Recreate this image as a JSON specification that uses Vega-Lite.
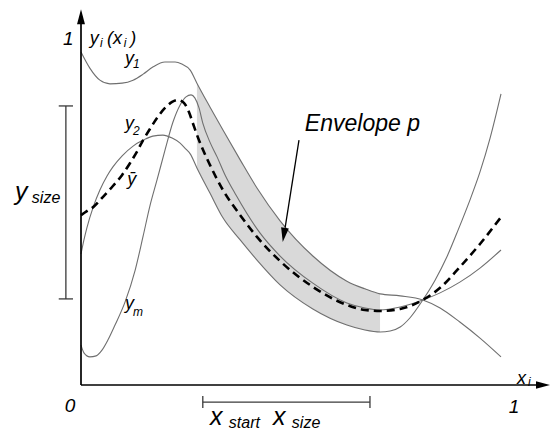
{
  "$schema": "https://vega.github.io/schema/vega-lite/v6.json",
  "width": 550,
  "height": 430,
  "autosize": "none",
  "padding": 0,
  "background": "white",
  "config": {"view": {"stroke": null}},
  "datasets": {
    "curves": [
      {"c":"y1","x":0,"y":0.994},{"c":"y1","x":0.021,"y":0.946},{"c":"y1","x":0.045,"y":0.910},{"c":"y1","x":0.069,"y":0.899},{"c":"y1","x":0.098,"y":0.901},{"c":"y1","x":0.124,"y":0.910},{"c":"y1","x":0.148,"y":0.928},{"c":"y1","x":0.171,"y":0.949},{"c":"y1","x":0.200,"y":0.964},{"c":"y1","x":0.224,"y":0.964},{"c":"y1","x":0.240,"y":0.958},{"c":"y1","x":0.260,"y":0.940},{"c":"y1","x":0.276,"y":0.901},{"c":"y1","x":0.307,"y":0.830},{"c":"y1","x":0.338,"y":0.761},{"c":"y1","x":0.379,"y":0.672},{"c":"y1","x":0.419,"y":0.588},{"c":"y1","x":0.474,"y":0.490},{"c":"y1","x":0.552,"y":0.385},{"c":"y1","x":0.633,"y":0.310},{"c":"y1","x":0.676,"y":0.287},{"c":"y1","x":0.712,"y":0.272},{"c":"y1","x":0.760,"y":0.266},{"c":"y1","x":0.814,"y":0.254},{"c":"y1","x":0.855,"y":0.230},{"c":"y1","x":0.902,"y":0.188},{"c":"y1","x":0.950,"y":0.140},{"c":"y1","x":1.0,"y":0.084},
      {"c":"y2","x":0,"y":0.391},{"c":"y2","x":0.007,"y":0.433},{"c":"y2","x":0.014,"y":0.469},{"c":"y2","x":0.029,"y":0.531},{"c":"y2","x":0.045,"y":0.582},{"c":"y2","x":0.062,"y":0.624},{"c":"y2","x":0.076,"y":0.651},{"c":"y2","x":0.098,"y":0.684},{"c":"y2","x":0.124,"y":0.713},{"c":"y2","x":0.148,"y":0.731},{"c":"y2","x":0.171,"y":0.743},{"c":"y2","x":0.195,"y":0.746},{"c":"y2","x":0.217,"y":0.737},{"c":"y2","x":0.236,"y":0.722},{"c":"y2","x":0.250,"y":0.704},{"c":"y2","x":0.260,"y":0.690},{"c":"y2","x":0.276,"y":0.648},{"c":"y2","x":0.307,"y":0.573},{"c":"y2","x":0.338,"y":0.499},{"c":"y2","x":0.379,"y":0.433},{"c":"y2","x":0.419,"y":0.373},{"c":"y2","x":0.474,"y":0.299},{"c":"y2","x":0.552,"y":0.227},{"c":"y2","x":0.633,"y":0.179},{"c":"y2","x":0.676,"y":0.164},{"c":"y2","x":0.712,"y":0.158},{"c":"y2","x":0.736,"y":0.161},{"c":"y2","x":0.760,"y":0.173},{"c":"y2","x":0.783,"y":0.200},{"c":"y2","x":0.814,"y":0.254},{"c":"y2","x":0.843,"y":0.313},{"c":"y2","x":0.871,"y":0.382},{"c":"y2","x":0.898,"y":0.463},{"c":"y2","x":0.926,"y":0.552},{"c":"y2","x":0.950,"y":0.636},{"c":"y2","x":0.974,"y":0.737},{"c":"y2","x":1.0,"y":0.869},
      {"c":"ym","x":0,"y":0.119},{"c":"ym","x":0.007,"y":0.096},{"c":"ym","x":0.021,"y":0.084},{"c":"ym","x":0.036,"y":0.087},{"c":"ym","x":0.050,"y":0.104},{"c":"ym","x":0.064,"y":0.134},{"c":"ym","x":0.081,"y":0.179},{"c":"ym","x":0.105,"y":0.248},{"c":"ym","x":0.129,"y":0.343},{"c":"ym","x":0.148,"y":0.445},{"c":"ym","x":0.164,"y":0.534},{"c":"ym","x":0.181,"y":0.612},{"c":"ym","x":0.200,"y":0.701},{"c":"ym","x":0.219,"y":0.785},{"c":"ym","x":0.236,"y":0.836},{"c":"ym","x":0.250,"y":0.860},{"c":"ym","x":0.262,"y":0.866},{"c":"ym","x":0.271,"y":0.857},{"c":"ym","x":0.281,"y":0.827},{"c":"ym","x":0.290,"y":0.782},{"c":"ym","x":0.307,"y":0.725},{"c":"ym","x":0.324,"y":0.681},{"c":"ym","x":0.343,"y":0.627},{"c":"ym","x":0.369,"y":0.567},{"c":"ym","x":0.426,"y":0.454},{"c":"ym","x":0.474,"y":0.385},{"c":"ym","x":0.552,"y":0.304},{"c":"ym","x":0.633,"y":0.245},{"c":"ym","x":0.676,"y":0.230},{"c":"ym","x":0.712,"y":0.224},{"c":"ym","x":0.760,"y":0.233},{"c":"ym","x":0.814,"y":0.254},{"c":"ym","x":0.855,"y":0.275},{"c":"ym","x":0.902,"y":0.307},{"c":"ym","x":0.950,"y":0.349},{"c":"ym","x":1.0,"y":0.403}
    ],
    "mean": [
      {"x":0,"y":0.507},{"x":0.014,"y":0.519},{"x":0.029,"y":0.531},{"x":0.052,"y":0.561},{"x":0.076,"y":0.594},{"x":0.098,"y":0.627},{"x":0.117,"y":0.663},{"x":0.133,"y":0.696},{"x":0.148,"y":0.731},{"x":0.164,"y":0.764},{"x":0.181,"y":0.797},{"x":0.200,"y":0.827},{"x":0.217,"y":0.845},{"x":0.231,"y":0.851},{"x":0.245,"y":0.842},{"x":0.257,"y":0.815},{"x":0.267,"y":0.779},{"x":0.279,"y":0.737},{"x":0.307,"y":0.657},{"x":0.338,"y":0.582},{"x":0.379,"y":0.507},{"x":0.419,"y":0.442},{"x":0.474,"y":0.370},{"x":0.552,"y":0.293},{"x":0.633,"y":0.239},{"x":0.676,"y":0.224},{"x":0.712,"y":0.221},{"x":0.760,"y":0.227},{"x":0.814,"y":0.254},{"x":0.855,"y":0.290},{"x":0.902,"y":0.352},{"x":0.950,"y":0.421},{"x":1.0,"y":0.501}
    ],
    "band": [
      {"x":0.276,"hi":0.901,"lo":0.648},{"x":0.307,"hi":0.830,"lo":0.573},{"x":0.338,"hi":0.761,"lo":0.499},{"x":0.379,"hi":0.672,"lo":0.433},{"x":0.419,"hi":0.588,"lo":0.373},{"x":0.474,"hi":0.490,"lo":0.299},{"x":0.552,"hi":0.385,"lo":0.227},{"x":0.633,"hi":0.310,"lo":0.179},{"x":0.676,"hi":0.287,"lo":0.164},{"x":0.712,"hi":0.272,"lo":0.158}
    ],
    "axes": [
      {"x":0,"y":0,"x2":0,"y2":1.08},
      {"x":0,"y":0,"x2":1.09,"y2":0}
    ],
    "bars": [
      {"x":-0.036,"y":0.257,"x2":-0.036,"y2":0.833},
      {"x":-0.053,"y":0.833,"x2":-0.019,"y2":0.833},
      {"x":-0.053,"y":0.257,"x2":-0.019,"y2":0.257},
      {"x":0.290,"y":-0.051,"x2":0.688,"y2":-0.051},
      {"x":0.290,"y":-0.033,"x2":0.290,"y2":-0.069},
      {"x":0.688,"y":-0.033,"x2":0.688,"y2":-0.069}
    ],
    "pointer": [{"x":0.519,"y":0.731,"x2":0.486,"y2":0.470}]
  },
  "layer": [
    {
      "data": {"name": "band"},
      "mark": {"type": "area", "interpolate": "monotone", "color": "#d9d9d9", "opacity": 1},
      "encoding": {
        "x": {"field": "x", "type": "quantitative", "scale": {"domain": [-0.192857, 1.116667], "nice": false, "zero": false}, "axis": null},
        "y": {"field": "hi", "type": "quantitative", "scale": {"domain": [-0.134328, 1.149254], "nice": false, "zero": false}, "axis": null},
        "y2": {"field": "lo"}
      }
    },
    {
      "data": {"name": "curves"},
      "mark": {"type": "line", "interpolate": "monotone", "color": "#6f6f6f", "strokeWidth": 1.1},
      "encoding": {
        "x": {"field": "x", "type": "quantitative"},
        "y": {"field": "y", "type": "quantitative"},
        "detail": {"field": "c"}
      }
    },
    {
      "data": {"name": "mean"},
      "mark": {"type": "line", "interpolate": "monotone", "color": "#000000", "strokeWidth": 2.6, "strokeDash": [8, 5]},
      "encoding": {
        "x": {"field": "x", "type": "quantitative"},
        "y": {"field": "y", "type": "quantitative"}
      }
    },
    {
      "data": {"name": "axes"},
      "mark": {"type": "rule", "color": "#000000", "strokeWidth": 1.7},
      "encoding": {
        "x": {"field": "x", "type": "quantitative"},
        "y": {"field": "y", "type": "quantitative"},
        "x2": {"field": "x2"},
        "y2": {"field": "y2"}
      }
    },
    {
      "data": {"name": "bars"},
      "mark": {"type": "rule", "color": "#3a3a3a", "strokeWidth": 1.3},
      "encoding": {
        "x": {"field": "x", "type": "quantitative"},
        "y": {"field": "y", "type": "quantitative"},
        "x2": {"field": "x2"},
        "y2": {"field": "y2"}
      }
    },
    {
      "data": {"name": "pointer"},
      "mark": {"type": "rule", "color": "#000000", "strokeWidth": 1.3},
      "encoding": {
        "x": {"field": "x", "type": "quantitative"},
        "y": {"field": "y", "type": "quantitative"},
        "x2": {"field": "x2"},
        "y2": {"field": "y2"}
      }
    },
    {
      "data": {"values": [{"x": 0, "y": 1.099}]},
      "mark": {"type": "point", "shape": "M0,-1L0.53,1L-0.53,1Z", "filled": true, "color": "#000000", "opacity": 1, "size": 225, "strokeWidth": 0},
      "encoding": {"x": {"field": "x", "type": "quantitative"}, "y": {"field": "y", "type": "quantitative"}}
    },
    {
      "data": {"values": [{"x": 1.1, "y": 0}]},
      "mark": {"type": "point", "shape": "M1,0L-1,0.53L-1,-0.53Z", "filled": true, "color": "#000000", "opacity": 1, "size": 196, "strokeWidth": 0},
      "encoding": {"x": {"field": "x", "type": "quantitative"}, "y": {"field": "y", "type": "quantitative"}}
    },
    {
      "data": {"values": [{"x": 0.483, "y": 0.448}]},
      "mark": {"type": "point", "shape": "M0,1L0.55,-1L-0.55,-1Z", "filled": true, "color": "#000000", "opacity": 1, "size": 200, "strokeWidth": 0, "angle": 9},
      "encoding": {"x": {"field": "x", "type": "quantitative"}, "y": {"field": "y", "type": "quantitative"}}
    },
    {
      "data": {"values": [{"t": "1", "x": -0.030, "y": 1.015}, {"t": "0", "x": -0.026, "y": -0.081}, {"t": "1", "x": 1.031, "y": -0.084}]},
      "mark": {"type": "text", "font": "Liberation Sans", "fontStyle": "italic", "fontSize": 19, "align": "center", "baseline": "alphabetic", "color": "#000000"},
      "encoding": {"x": {"field": "x", "type": "quantitative"}, "y": {"field": "y", "type": "quantitative"}, "text": {"field": "t"}}
    },
    {
      "data": {"values": [
        {"t": "y", "x": 0.021, "y": 1.018}, {"t": "(x", "x": 0.062, "y": 1.018}, {"t": ")", "x": 0.117, "y": 1.018},
        {"t": "y", "x": 0.105, "y": 0.958}, {"t": "y", "x": 0.105, "y": 0.764}, {"t": "ȳ", "x": 0.110, "y": 0.597},
        {"t": "y", "x": 0.105, "y": 0.227}, {"t": "x", "x": 1.038, "y": 0.003}
      ]},
      "mark": {"type": "text", "font": "Liberation Sans", "fontStyle": "italic", "fontSize": 18, "align": "left", "baseline": "alphabetic", "color": "#000000"},
      "encoding": {"x": {"field": "x", "type": "quantitative"}, "y": {"field": "y", "type": "quantitative"}, "text": {"field": "t"}}
    },
    {
      "data": {"values": [
        {"t": "i", "x": 0.045, "y": 1.009}, {"t": "i", "x": 0.102, "y": 1.009},
        {"t": "1", "x": 0.124, "y": 0.946}, {"t": "2", "x": 0.124, "y": 0.746},
        {"t": "m", "x": 0.124, "y": 0.206}, {"t": "i", "x": 1.064, "y": -0.003}
      ]},
      "mark": {"type": "text", "font": "Liberation Sans", "fontStyle": "italic", "fontSize": 12, "align": "left", "baseline": "alphabetic", "color": "#000000"},
      "encoding": {"x": {"field": "x", "type": "quantitative"}, "y": {"field": "y", "type": "quantitative"}, "text": {"field": "t"}}
    },
    {
      "data": {"values": [{"t": "y", "x": -0.157, "y": 0.552}, {"t": "x", "x": 0.307, "y": -0.119}, {"t": "x", "x": 0.457, "y": -0.119}]},
      "mark": {"type": "text", "font": "Liberation Sans", "fontStyle": "italic", "fontSize": 25, "align": "left", "baseline": "alphabetic", "color": "#000000"},
      "encoding": {"x": {"field": "x", "type": "quantitative"}, "y": {"field": "y", "type": "quantitative"}, "text": {"field": "t"}}
    },
    {
      "data": {"values": [{"t": "size", "x": -0.117, "y": 0.543}, {"t": "start", "x": 0.352, "y": -0.128}, {"t": "size", "x": 0.502, "y": -0.128}]},
      "mark": {"type": "text", "font": "Liberation Sans", "fontStyle": "italic", "fontSize": 16, "align": "left", "baseline": "alphabetic", "color": "#000000"},
      "encoding": {"x": {"field": "x", "type": "quantitative"}, "y": {"field": "y", "type": "quantitative"}, "text": {"field": "t"}}
    },
    {
      "data": {"values": [{"t": "Envelope p", "x": 0.533, "y": 0.758}]},
      "mark": {"type": "text", "font": "Liberation Sans", "fontStyle": "italic", "fontSize": 23, "align": "left", "baseline": "alphabetic", "color": "#000000"},
      "encoding": {"x": {"field": "x", "type": "quantitative"}, "y": {"field": "y", "type": "quantitative"}, "text": {"field": "t"}}
    }
  ]
}
